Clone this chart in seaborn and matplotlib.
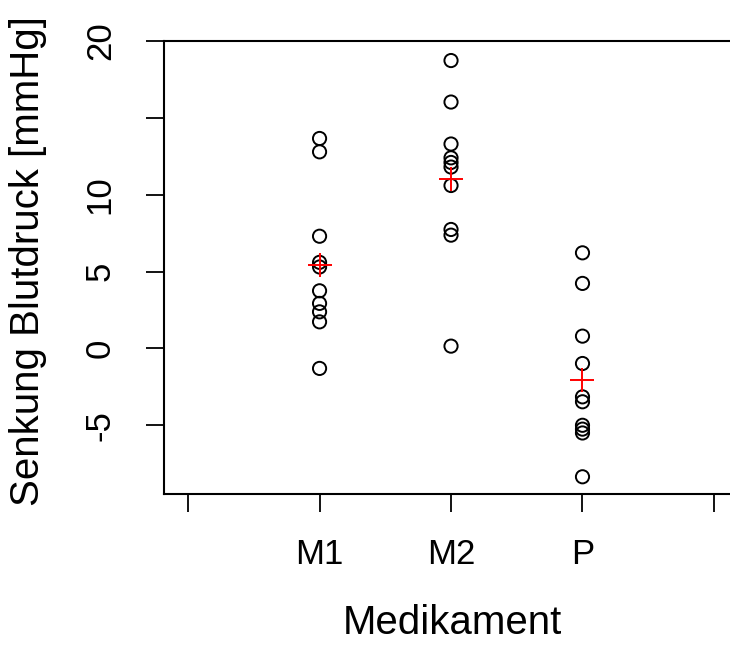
import numpy as np
import pandas as pd
import matplotlib
matplotlib.use("Agg")
import matplotlib.pyplot as plt
import seaborn as sns

# Senkung Blutdruck je Medikament
m1 = [13.66, 12.79, 7.30, 5.6, 5.3, 3.75, 2.93, 2.38, 1.73, -1.30]
m2 = [18.73, 16.03, 13.3, 12.4, 12.1, 11.8, 10.6, 7.74, 7.37, 0.15]
p = [6.22, 4.23, 0.80, -0.98, -3.15, -3.47, -5.0, -5.25, -5.5, -8.35]
gruppen = ["M1", "M2", "P"]

df = pd.DataFrame({
    "Medikament": ["M1"] * len(m1) + ["M2"] * len(m2) + ["P"] * len(p),
    "Senkung": m1 + m2 + p,
})

sns.set_style("white")
plt.rcParams["font.family"] = ["Liberation Sans", "DejaVu Sans"]

fig = plt.figure(figsize=(7.3, 6.46), dpi=100)
ax = fig.add_axes([0.2247, 0.2353, 0.7753, 0.7012])

# einzelne Werte als offene Kreise
sns.stripplot(data=df, x="Medikament", y="Senkung", order=gruppen,
              jitter=False, size=9.5, color="black", ax=ax, zorder=3)
for coll in ax.collections:
    coll.set_facecolor("none")
    coll.set_edgecolor("black")
    coll.set_linewidth(1.4)

# Mittelwerte als rote Kreuze
sns.pointplot(data=df, x="Medikament", y="Senkung", order=gruppen,
              estimator="mean", errorbar=None, color="red", marker="+",
              linestyle="none", markersize=17, markeredgewidth=1.4, ax=ax,
              zorder=4)

ax.set_xlim(-1.183, 3.122)
ax.set_ylim(-9.47, 20)

ax.set_xticks([-1, 0, 1, 2, 3])
ax.set_xticklabels(["", "M1", "M2", "P", ""])
ax.set_yticks([-5, 0, 5, 10, 15, 20])
ax.set_yticklabels(["-5", "0", "5", "10", "", "20"])

ax.tick_params(axis="both", direction="out", length=13, width=1.3,
               color="black", labelsize=25, labelcolor="black",
               bottom=True, left=True)
ax.tick_params(axis="x", pad=19)
ax.tick_params(axis="y", pad=21, labelrotation=90)
for lab in ax.get_yticklabels():
    lab.set_verticalalignment("center")

for s in ["left", "top", "bottom"]:
    ax.spines[s].set_visible(True)
    ax.spines[s].set_color("black")
    ax.spines[s].set_linewidth(1.5)
ax.spines["right"].set_visible(False)

ax.set_xlabel("Medikament", fontsize=29, color="black")
ax.set_ylabel("Senkung Blutdruck [mmHg]", fontsize=29, color="black")
ax.xaxis.set_label_coords(0.509, -0.243)
ax.yaxis.set_label_coords(-0.207, 0.515)

fig.savefig("out.png", dpi=100)
